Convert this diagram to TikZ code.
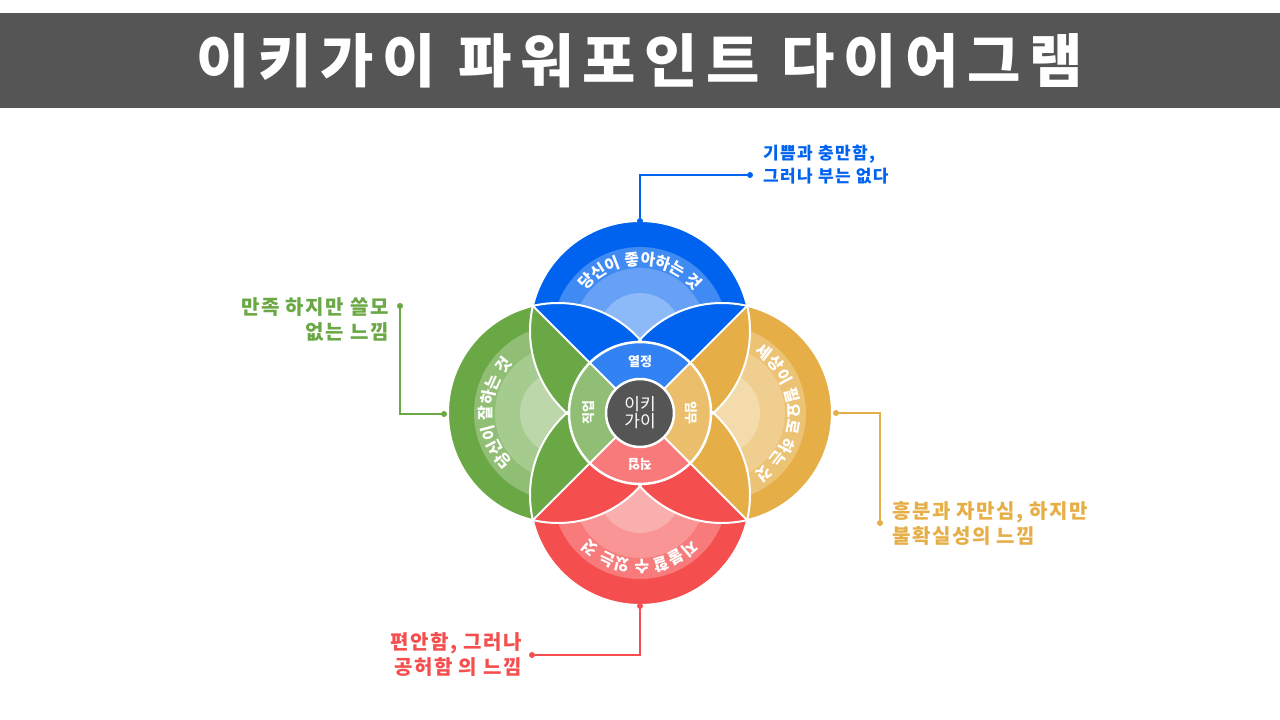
\documentclass[tikz,border=0pt]{standalone}
\usepackage{fontspec}
\newfontfamily\kr{Noto Sans CJK KR}
\newfontfamily\krs{Noto Sans CJK KR}[LetterSpace=8]
\newfontfamily\krt{Noto Sans CJK KR}[LetterSpace=15]
\usetikzlibrary{decorations.text,calc}
\definecolor{cB}{RGB}{0,99,240}
\definecolor{cG}{RGB}{106,168,69}
\definecolor{cO}{RGB}{230,174,70}
\definecolor{cR}{RGB}{245,78,78}
\definecolor{title}{RGB}{85,85,85}
\begin{document}
\begin{tikzpicture}[x=1pt,y=1pt,
  lab/.style={font=\krs\bfseries\fontsize{20}{25}\selectfont,inner sep=0pt},
  inner/.style={font=\kr\bfseries\fontsize{13}{13}\selectfont,text=white,inner sep=0pt},
  dot/.style={circle,fill,inner sep=0pt,minimum size=6pt},
  con/.style={line width=1.5pt}]
\useasboundingbox (0,0) rectangle (1280,720);
\fill[title] (0,612) rectangle (1280,707);
\node[font=\krt\bfseries\fontsize{58}{60}\selectfont,text=white] (t) at (640,659) {이키가이 파워포인트 다이어그램};
\coordinate (C) at (640,307);
\coordinate (bB) at (640,389); \coordinate (bR) at (640,225);
\coordinate (bG) at (558,307); \coordinate (bO) at (722,307);
\coordinate (rB) at (640,385); \coordinate (rR) at (640,229);
\coordinate (rG) at (562,307); \coordinate (rO) at (718,307);
\foreach \c/\cc/\r/\a/\o/\p in {cB/bB/rB/90/bG/bO, cR/bR/rR/-90/bG/bO, cG/bG/rG/180/bB/bR, cO/bO/rO/0/bB/bR}{
  \begin{scope}
    \clip (C) -- ($(C)+(\a-45:500)$) -- ($(C)+(\a+45:500)$) -- cycle;
    \clip (\cc) circle[radius=110];
    \fill[\c] (\cc) circle[radius=110];
    \fill[\c!75!white] (\r) circle[radius=88];
    \fill[\c!60!white] (\r) circle[radius=67];
    \fill[\c!45!white] (\r) circle[radius=42];
    \fill[\c] (\o) circle[radius=110];
    \fill[\c] (\p) circle[radius=110];
  \end{scope}}
\foreach \cc in {bB,bR,bG,bO}
  \draw[white,line width=2pt] (\cc) circle[radius=110];
\draw[white,line width=2pt] ($(C)+(45:152)$) -- ($(C)+(225:152)$);
\draw[white,line width=2pt] ($(C)+(135:152)$) -- ($(C)+(-45:152)$);
\def\rt#1{|\kr\bfseries\fontsize{16}{16}\selectfont\color{white}|#1}
\path[decorate,decoration={text along path,text align=center,text={\rt{당신이 좋아하는 것}}}]
  ($(rB)+(165:70)$) arc[start angle=165,end angle=15,radius=70];
\path[decorate,decoration={text along path,text align=center,text={\rt{세상이 필요로 하는 것}}}]
  ($(rO)+(75:70)$) arc[start angle=75,end angle=-75,radius=70];
\path[decorate,decoration={text along path,text align=center,text={\rt{지불할 수 있는 것}}}]
  ($(rR)+(-15:70)$) arc[start angle=-15,end angle=-165,radius=70];
\path[decorate,decoration={text along path,text align=center,text={\rt{당신이 잘하는 것}}}]
  ($(rG)+(255:70)$) arc[start angle=255,end angle=105,radius=70];
\fill[cB!80!white] (C) -- ++(45:71) arc[start angle=45,end angle=135,radius=71] -- cycle;
\fill[cO!80!white] (C) -- ++(-45:71) arc[start angle=-45,end angle=45,radius=71] -- cycle;
\fill[cR!75!white] (C) -- ++(-135:71) arc[start angle=-135,end angle=-45,radius=71] -- cycle;
\fill[cG!75!white] (C) -- ++(135:71) arc[start angle=135,end angle=225,radius=71] -- cycle;
\draw[white,line width=2.5pt] (C) circle[radius=71];
\draw[white,line width=2pt] ($(C)+(45:71)$) -- ($(C)+(225:71)$);
\draw[white,line width=2pt] ($(C)+(135:71)$) -- ($(C)+(-45:71)$);
\node[circle,fill=title,draw=white,line width=2.5pt,minimum size=68pt,inner sep=0pt,
  font=\kr\fontsize{17}{17}\selectfont,text=white,align=center] (ik) at (C) {이키\\가이};
\node[inner] (q1) at (640,358) {열정};
\node[inner,rotate=-90] (q2) at (691,307) {임무};
\node[inner,rotate=180] (q3) at (640,256) {직업};
\node[inner,rotate=90] (q4) at (589,307) {직업};
\node[dot,cB] (d1) at (640,499) {};
\node[dot,cB] (e1) at (750,545) {};
\draw[con,cB] (d1) |- (e1);
\node[lab,text=cB,anchor=west,align=left,font=\krs\bfseries\fontsize{17}{23}\selectfont] (l1) at (763,555) {기쁨과 충만함,\\그러나 부는 없다};
\node[dot,cG] (d2) at (444,306) {};
\node[dot,cG] (e2) at (400,414) {};
\draw[con,cG] (d2) -| (e2);
\node[lab,text=cG,anchor=east,align=right] (l2) at (389,400) {만족 하지만 쓸모\\없는 느낌};
\node[dot,cO] (d3) at (836,307) {};
\node[dot,cO] (e3) at (880,197) {};
\draw[con,cO] (d3) -| (e3);
\node[lab,text=cO,anchor=west,align=left] (l3) at (892,197) {흥분과 자만심, 하지만\\불확실성의 느낌};
\node[dot,cR] (d4) at (640,114) {};
\node[dot,cR] (e4) at (532,65) {};
\draw[con,cR] (d4) |- (e4);
\node[lab,text=cR,anchor=east,align=right] (l4) at (522,66) {편안함, 그러나\\공허함 의 느낌};
\end{tikzpicture}
\end{document}
